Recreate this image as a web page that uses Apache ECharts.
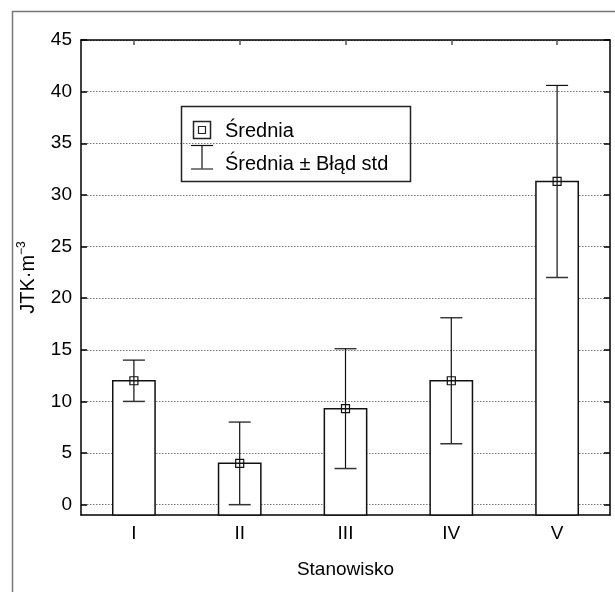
<!DOCTYPE html>
<html>
<head>
<meta charset="utf-8">
<script src="https://cdn.jsdelivr.net/npm/echarts@6/dist/echarts.min.js"></script>
<style>
html,body{margin:0;padding:0;background:#fff;}
#chart{width:615px;height:592px;}
</style>
</head>
<body>
<div id="chart"></div>
<script>
const categories = ['I', 'II', 'III', 'IV', 'V'];
const means = [12, 4, 9.3, 12, 31.3];
const lowerErr = [10, 0, 3.5, 5.9, 22.0];
const upperErr = [14, 8, 15.1, 18.1, 40.6];
const yTicks = [0, 5, 10, 15, 20, 25, 30, 35, 40, 45];
const yMin = -1;
const yMax = 45;

const FONT = '"Liberation Sans", Arial, Helvetica, sans-serif';
const chart = echarts.init(document.getElementById('chart'), null, {renderer: 'canvas'});

const lineStyleBlack = {stroke: '#111', lineWidth: 1.2};

const option = {
  backgroundColor: '#fff',
  animation: false,
  textStyle: {fontFamily: FONT},
  grid: {left: 81, right: 5, top: 40, bottom: 77},
  xAxis: [
    {
      type: 'category', data: categories, position: 'bottom',
      axisLine: {show: true, onZero: false, lineStyle: {color: '#000', width: 1.5}},
      axisTick: {show: true, alignWithLabel: true, inside: true, length: 6, lineStyle: {color: '#444', width: 1.5}},
      axisLabel: {fontSize: 19, color: '#000', margin: 9, fontFamily: FONT},
      splitLine: {show: false},
      name: 'Stanowisko', nameLocation: 'middle', nameGap: 45,
      nameTextStyle: {fontSize: 19, color: '#000', fontFamily: FONT}
    },
    {
      type: 'category', data: categories, position: 'top',
      axisLine: {show: true, onZero: false, lineStyle: {color: '#000', width: 1.5}},
      axisTick: {show: true, alignWithLabel: true, inside: true, length: 5, lineStyle: {color: '#555', width: 1.5}},
      axisLabel: {show: false},
      splitLine: {show: false}
    }
  ],
  yAxis: [
    {
      type: 'value', min: yMin, max: yMax, position: 'left',
      axisLine: {show: true, onZero: false, lineStyle: {color: '#000', width: 1.5}},
      axisTick: {show: true, inside: true, length: 6, customValues: yTicks, lineStyle: {color: '#000', width: 1.5}},
      axisLabel: {fontSize: 19, color: '#000', margin: 9, customValues: yTicks, fontFamily: FONT},
      splitLine: {show: true, lineStyle: {color: '#777', type: [1.5, 1.5], width: 1}},
      name: '{a|JTK·m}{b|−3}', nameLocation: 'middle', nameGap: 43, nameRotate: 90,
      nameTextStyle: {
        fontFamily: FONT, color: '#000',
        rich: {
          a: {fontSize: 20, fontFamily: FONT, color: '#000', verticalAlign: 'bottom', lineHeight: 22},
          b: {fontSize: 12, fontFamily: FONT, color: '#000', verticalAlign: 'top', lineHeight: 22}
        }
      }
    },
    {
      type: 'value', min: yMin, max: yMax, position: 'right',
      axisLine: {show: true, onZero: false, lineStyle: {color: '#000', width: 1.5}},
      axisTick: {show: true, inside: true, length: 6, customValues: yTicks, lineStyle: {color: '#000', width: 1.5}},
      axisLabel: {show: false, customValues: yTicks},
      splitLine: {show: false}
    }
  ],
  series: [
    {
      type: 'custom', name: 'bars', xAxisIndex: 0, yAxisIndex: 0, z: 2,
      data: categories.map((c, i) => [i, means[i]]),
      renderItem: function (params, api) {
        const x = api.value(0);
        const top = api.coord([x, api.value(1)]);
        const base = api.coord([x, yMin]);
        const w = api.size([1, 0])[0] * 0.4;
        return {
          type: 'rect',
          shape: {x: top[0] - w / 2, y: top[1], width: w, height: base[1] - top[1]},
          style: {fill: '#fff', stroke: '#111', lineWidth: 1.5}
        };
      }
    },
    {
      type: 'custom', name: 'err', xAxisIndex: 0, yAxisIndex: 0, z: 3,
      data: categories.map((c, i) => [i, lowerErr[i], upperErr[i]]),
      renderItem: function (params, api) {
        const x = api.value(0);
        const lo = api.coord([x, api.value(1)]);
        const hi = api.coord([x, api.value(2)]);
        const half = 11;
        return {
          type: 'group',
          children: [
            {type: 'line', shape: {x1: lo[0], y1: lo[1], x2: hi[0], y2: hi[1]}, style: lineStyleBlack},
            {type: 'line', shape: {x1: hi[0] - half, y1: hi[1], x2: hi[0] + half, y2: hi[1]}, style: lineStyleBlack},
            {type: 'line', shape: {x1: lo[0] - half, y1: lo[1], x2: lo[0] + half, y2: lo[1]}, style: {stroke: '#333', lineWidth: 1.5}}
          ]
        };
      }
    },
    {
      type: 'scatter', name: 'Średnia', xAxisIndex: 0, yAxisIndex: 0, z: 4,
      data: means,
      symbol: 'rect', symbolSize: 8,
      itemStyle: {color: 'rgba(0,0,0,0)', borderColor: '#111', borderWidth: 1.2, opacity: 1}
    }
  ],
  graphic: [
    {type: 'rect', shape: {x: 12.5, y: 11.5, width: 700, height: 700}, style: {fill: 'none', stroke: '#777', lineWidth: 1.5}, silent: true, z: 0},
    {type: 'rect', shape: {x: 181.5, y: 106.5, width: 229, height: 75}, style: {fill: 'none', stroke: '#222', lineWidth: 1.5}, z: 10},
    {type: 'rect', shape: {x: 193.5, y: 121.5, width: 17, height: 17}, style: {fill: 'none', stroke: '#222', lineWidth: 1.5}, z: 10},
    {type: 'rect', shape: {x: 198.5, y: 126.5, width: 7, height: 7}, style: {fill: 'none', stroke: '#222', lineWidth: 1.2}, z: 10},
    {type: 'line', shape: {x1: 202, y1: 145.5, x2: 202, y2: 169}, style: {stroke: '#111', lineWidth: 1.2}, z: 10},
    {type: 'line', shape: {x1: 191, y1: 145.5, x2: 213, y2: 145.5}, style: {stroke: '#111', lineWidth: 1.2}, z: 10},
    {type: 'line', shape: {x1: 191, y1: 169, x2: 213, y2: 169}, style: {stroke: '#555', lineWidth: 1.5}, z: 10},
    {type: 'text', x: 225, y: 131, style: {text: 'Średnia', fontSize: 20, fontFamily: FONT, fill: '#000', verticalAlign: 'middle', align: 'left'}, z: 10},
    {type: 'text', x: 225, y: 164, style: {text: 'Średnia ± Błąd std', fontSize: 20, fontFamily: FONT, fill: '#000', verticalAlign: 'middle', align: 'left'}, z: 10}
  ]
};
chart.setOption(option);
</script>
</body>
</html>
